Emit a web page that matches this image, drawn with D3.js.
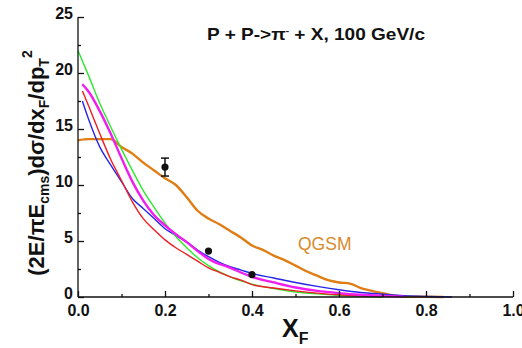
<!DOCTYPE html>
<html>
<head>
<meta charset="utf-8">
<script src="https://cdn.jsdelivr.net/npm/d3@7"></script>
<style>
  body { margin: 0; background: #fff; }
  text { font-family: "Liberation Sans", Arial, sans-serif; font-weight: bold; }
</style>
</head>
<body>
<svg id="chart" width="522" height="348"></svg>
<script>
// x_F grid and curve values
var greenX = [0, 0.025, 0.05, 0.075, 0.1, 0.125, 0.15, 0.175, 0.2, 0.225, 0.25, 0.275, 0.3, 0.35, 0.4, 0.45, 0.5, 0.55, 0.6, 0.65, 0.7];
var greenY = [22.0, 19.7, 17.3, 15.2, 13.2, 11.3, 9.5, 8.0, 6.6, 5.4, 4.4, 3.5, 2.8, 1.8, 1.15, 0.75, 0.45, 0.28, 0.15, 0.06, 0.0];

var magentaX = [0.01, 0.025, 0.05, 0.075, 0.1, 0.125, 0.15, 0.175, 0.2, 0.225, 0.25, 0.275, 0.3, 0.35, 0.4, 0.45, 0.5, 0.55, 0.6, 0.65, 0.7, 0.75];
var magentaY = [19.0, 18.3, 16.6, 14.6, 12.4, 10.3, 8.6, 7.3, 6.4, 5.6, 4.9, 4.1, 3.4, 2.6, 1.8, 1.3, 0.85, 0.55, 0.35, 0.2, 0.1, 0.03];

var redX = [0.01, 0.025, 0.05, 0.075, 0.1, 0.125, 0.15, 0.175, 0.2, 0.225, 0.25, 0.275, 0.3, 0.325, 0.35, 0.375, 0.4, 0.45, 0.5, 0.55, 0.6, 0.65, 0.7];
var redY = [18.4, 17.0, 14.6, 12.3, 10.4, 8.5, 7.0, 6.0, 5.1, 4.4, 3.8, 3.2, 2.6, 2.2, 1.8, 1.5, 1.1, 0.8, 0.55, 0.35, 0.2, 0.1, 0.03];

var blueX = [0.01, 0.025, 0.05, 0.075, 0.1, 0.125, 0.15, 0.175, 0.2, 0.225, 0.25, 0.275, 0.3, 0.325, 0.35, 0.375, 0.4, 0.45, 0.5, 0.55, 0.6, 0.65, 0.7, 0.75, 0.8, 0.86];
var blueY = [17.5, 15.8, 13.4, 11.8, 10.3, 8.8, 7.9, 7.0, 6.1, 5.5, 4.9, 4.2, 3.6, 3.1, 2.7, 2.4, 2.1, 1.7, 1.3, 0.95, 0.65, 0.4, 0.25, 0.12, 0.05, 0.0];

var qgsmX = [0, 0.025, 0.05, 0.075, 0.1, 0.125, 0.15, 0.175, 0.2, 0.225, 0.25, 0.275, 0.3, 0.325, 0.35, 0.375, 0.4, 0.425, 0.45, 0.475, 0.5, 0.525, 0.55, 0.575, 0.6, 0.625, 0.65, 0.675, 0.7, 0.725, 0.75, 0.8, 0.84];
var qgsmY = [14.0, 14.1, 14.1, 14.1, 13.4, 12.8, 12.0, 11.3, 10.6, 10.0, 8.9, 7.7, 7.0, 6.5, 5.9, 5.3, 4.6, 4.2, 3.7, 3.3, 2.8, 2.3, 1.9, 1.5, 1.3, 1.2, 0.8, 0.55, 0.35, 0.15, 0.05, 0.02, 0.0];

// measured points
var dataX = [0.2, 0.3, 0.4];
var dataY = [11.6, 4.1, 2.0];
var dataErr = [0.8, 0, 0];

var xTicks = [0, 0.2, 0.4, 0.6, 0.8, 1.0];
var yTicks = [0, 5, 10, 15, 20, 25];

var svg = d3.select('#chart');
var plotL = 78, plotR = 513, plotT = 17, plotB = 297;

var x = d3.scaleLinear().domain([0, 1]).range([plotL, plotR]);
var y = d3.scaleLinear().domain([0, 25]).range([plotB, plotT]);

function zipXY(xs, ys) {
  return xs.map(function(v, i) { return [v, ys[i]]; });
}

var series = [
  { xs: qgsmX, ys: qgsmY, color: '#e07d12', w: 2.4 },
  { xs: blueX, ys: blueY, color: '#2626e8', w: 1.4 },
  { xs: greenX, ys: greenY, color: '#2ee82e', w: 1.4 },
  { xs: redX, ys: redY, color: '#f21c24', w: 1.4 },
  { xs: magentaX, ys: magentaY, color: '#f01cf0', w: 2.4 }
];

var line = d3.line()
  .x(function(d) { return x(d[0]); })
  .y(function(d) { return y(d[1]); })
  .curve(d3.curveMonotoneX);

svg.append('g').selectAll('path')
  .data(series)
  .enter()
  .append('path')
  .attr('d', function(s) { return line(zipXY(s.xs, s.ys)); })
  .attr('fill', 'none')
  .attr('stroke', function(s) { return s.color; })
  .attr('stroke-width', function(s) { return s.w; })
  .attr('stroke-linejoin', 'round');

// axes, ticks pointing inward
var xAxis = d3.axisBottom(x).tickValues(xTicks).tickSize(-6).tickPadding(8)
  .tickFormat(d3.format('.1f'));
var gx = svg.append('g').attr('transform', 'translate(0,' + plotB + ')').call(xAxis);
gx.select('.domain').attr('d', 'M' + plotL + ',0H' + plotR);

var xMinor = d3.axisBottom(x).tickValues([0.1, 0.3, 0.5, 0.7, 0.9]).tickSize(-3).tickFormat('');
var gxm = svg.append('g').attr('transform', 'translate(0,' + plotB + ')').call(xMinor);
gxm.select('.domain').remove();

var yAxis = d3.axisLeft(y).tickValues(yTicks).tickSize(-6).tickPadding(5);
var gy = svg.append('g').attr('transform', 'translate(' + plotL + ',0)').call(yAxis);
gy.select('.domain').attr('d', 'M0,' + plotB + 'V' + plotT);

var yMinor = d3.axisLeft(y).tickValues([2.5, 7.5, 12.5, 17.5, 22.5]).tickSize(-3).tickFormat('');
var gym = svg.append('g').attr('transform', 'translate(' + plotL + ',0)').call(yMinor);
gym.select('.domain').remove();

svg.selectAll('.domain, .tick line').attr('stroke', '#111').attr('stroke-width', 1.3);
svg.selectAll('.tick text').attr('font-size', 16).attr('font-weight', 'bold')
  .attr('font-family', '"Liberation Sans", Arial, sans-serif').attr('fill', '#111');
gy.selectAll('.tick text').attr('dy', '0.1em');

// experimental points
var pts = zipXY(dataX, dataY).map(function(d, i) { return { x: d[0], y: d[1], e: dataErr[i] }; });
var eg = svg.append('g');
pts.filter(function(d) { return d.e > 0; }).forEach(function(d) {
  var cx = x(d.x);
  eg.append('line').attr('x1', cx).attr('x2', cx).attr('y1', y(d.y - d.e)).attr('y2', y(d.y + d.e))
    .attr('stroke', '#111').attr('stroke-width', 1.5);
  [d.y - d.e, d.y + d.e].forEach(function(v) {
    eg.append('line').attr('x1', cx - 4).attr('x2', cx + 4).attr('y1', y(v)).attr('y2', y(v))
      .attr('stroke', '#111').attr('stroke-width', 1.5);
  });
});
eg.selectAll('circle').data(pts).enter().append('circle')
  .attr('cx', function(d) { return x(d.x); })
  .attr('cy', function(d) { return y(d.y); })
  .attr('r', 3.6)
  .attr('fill', '#111');

// labels
svg.append('text').attr('x', 207).attr('y', 40).attr('font-size', 17).attr('fill', '#111')
  .attr('textLength', 218).attr('lengthAdjust', 'spacingAndGlyphs')
  .html('P + P-&gt;&#960;<tspan dy="-6" font-size="9">-</tspan><tspan dy="6"> + X, 100 GeV/c</tspan>');

svg.append('text').attr('x', 298).attr('y', 250).attr('font-size', 17.5).attr('fill', '#d98a2c')
  .style('font-weight', 'normal').text('QGSM');

svg.append('text').attr('x', 282).attr('y', 337).attr('font-size', 25).attr('fill', '#111')
  .html('X<tspan dy="7" font-size="16">F</tspan>');

svg.append('text')
  .attr('transform', 'translate(44,' + 163 + ') rotate(-90)')
  .attr('text-anchor', 'middle')
  .attr('font-size', 22).attr('fill', '#111')
  .html('(2E/&#960;E<tspan dy="5" font-size="14">cms</tspan><tspan dy="-5">)d&#963;/dx</tspan><tspan dy="5" font-size="14">F</tspan><tspan dy="-5">/dp</tspan><tspan dy="5" font-size="14">T</tspan><tspan dy="-17" font-size="14">2</tspan>');
</script>
</body>
</html>
